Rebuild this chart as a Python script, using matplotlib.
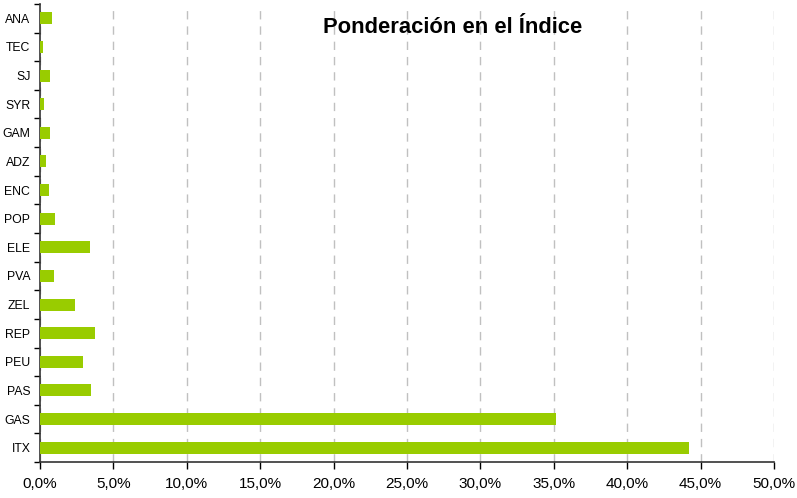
import matplotlib
matplotlib.use("Agg")
import matplotlib.pyplot as plt
import numpy as np

plt.rcParams['font.family'] = ['Liberation Sans', 'DejaVu Sans']

# Datos (de abajo hacia arriba)
empresas = ['ITX', 'GAS', 'PAS', 'PEU', 'REP', 'ZEL', 'PVA', 'ELE',
            'POP', 'ENC', 'ADZ', 'GAM', 'SYR', 'SJ', 'TEC', 'ANA']
ponderacion = [44.24, 35.15, 3.48, 2.93, 3.75, 2.39, 0.95, 3.40,
               1.02, 0.61, 0.41, 0.68, 0.27, 0.68, 0.20, 0.82]
ticks_x = [0, 5, 10, 15, 20, 25, 30, 35, 40, 45, 50]

fig = plt.figure(figsize=(7.97, 4.98), dpi=100)
ax = fig.add_axes([40 / 797, 36 / 498, 734 / 797, 458 / 498])

y = np.arange(len(empresas))
ax.barh(y, ponderacion, height=0.42, color='#99CC00', zorder=3)

ax.set_xlim(0, 50)
ax.set_ylim(-0.5, len(empresas) - 0.5)

ax.set_xticks(ticks_x)
ax.set_xticklabels([f"{v:.1f}%".replace('.', ',') for v in ticks_x], fontsize=11)
ax.set_yticks(y)
ax.set_yticklabels(empresas, fontsize=8.8)
ax.set_yticks(np.arange(len(empresas) + 1) - 0.5, minor=True)
ax.tick_params(axis='y', which='major', length=0, pad=7)
ax.tick_params(axis='y', which='minor', length=4, width=1, direction='out')
ax.tick_params(axis='x', which='major', length=5, width=1, direction='out', pad=6)

ax.grid(axis='x', color='#c0c0c0', linestyle=(0, (6, 5)), linewidth=1, zorder=0)
for s in ['top', 'right']:
    ax.spines[s].set_visible(False)
for s in ['left', 'bottom']:
    ax.spines[s].set_color('#333333')
    ax.spines[s].set_linewidth(1.2)

ax.text(0.562, 0.948, 'Ponderación en el Índice', transform=ax.transAxes,
        ha='center', va='center', fontsize=15.8, fontweight='bold')

fig.savefig('out.png', dpi=100)
